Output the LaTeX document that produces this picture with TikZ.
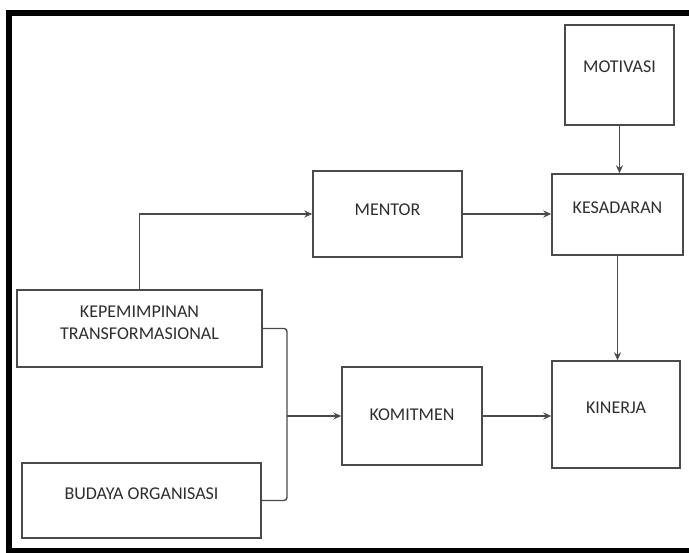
\documentclass[tikz,border=0pt]{standalone}
\usepackage{fontspec}
\setmainfont{Carlito}
\usetikzlibrary{arrows.meta}

\definecolor{garis}{HTML}{4A4A4A}
\definecolor{teks}{HTML}{2E2E2E}

\tikzset{
  blok/.style={draw=garis, line width=1.4pt, text=teks, inner sep=0pt,
    align=center, font=\fontsize{18}{22}\selectfont, text depth=14pt},
  panah/.style={draw=garis, line width=1.4pt, ->, >={Stealth[length=8pt,width=7pt]}}
}

\begin{document}
\begin{tikzpicture}[x=1pt, y=-1pt]
  \useasboundingbox (0,0) rectangle (689,553);
  \fill[white] (0,0) rectangle (689,553);
  \draw[line width=6pt] (689,13) -- (8.5,13) -- (8.5,551.5) -- (689,551.5);

  \node[blok, minimum width=109pt, minimum height=100pt, text depth=16pt] (motivasi) at (619.5,75) {MOTIVASI};
  \node[blok, minimum width=131pt, minimum height=81pt] (kesadaran) at (617.5,214.5) {KESADARAN};
  \node[blok, minimum width=149pt, minimum height=86pt, text depth=8pt] (mentor) at (387.5,214) {MENTOR};
  \node[blok, minimum width=128pt, minimum height=107pt] (kinerja) at (616,414.5) {KINERJA};
  \node[blok, minimum width=140pt, minimum height=98pt, text depth=2pt] (komitmen) at (412,416) {KOMITMEN};
  \node[blok, minimum width=245pt, minimum height=77pt, text depth=11pt] (kepemimpinan) at (139.5,328.5) {KEPEMIMPINAN\\TRANSFORMASIONAL};
  \node[blok, minimum width=239pt, minimum height=75pt, text depth=13pt] (budaya) at (141.5,500.5) {BUDAYA ORGANISASI};

  \coordinate (gabung) at (287,416);

  \draw[panah] (motivasi.south) -- (motivasi.south |- kesadaran.north);
  \draw[panah] (kesadaran.south) -- (kesadaran.south |- kinerja.north);
  \draw[panah] (mentor.east) -- (mentor.east -| kesadaran.west);
  \draw[panah] (kepemimpinan.north) |- (mentor.west);
  \draw[draw=garis, line width=1.4pt, rounded corners=3pt] (kepemimpinan.east) -| (gabung) |- (budaya.east);
  \draw[panah] (gabung) -- (komitmen.west);
  \draw[panah] (komitmen.east) -- (komitmen.east -| kinerja.west);
\end{tikzpicture}
\end{document}
